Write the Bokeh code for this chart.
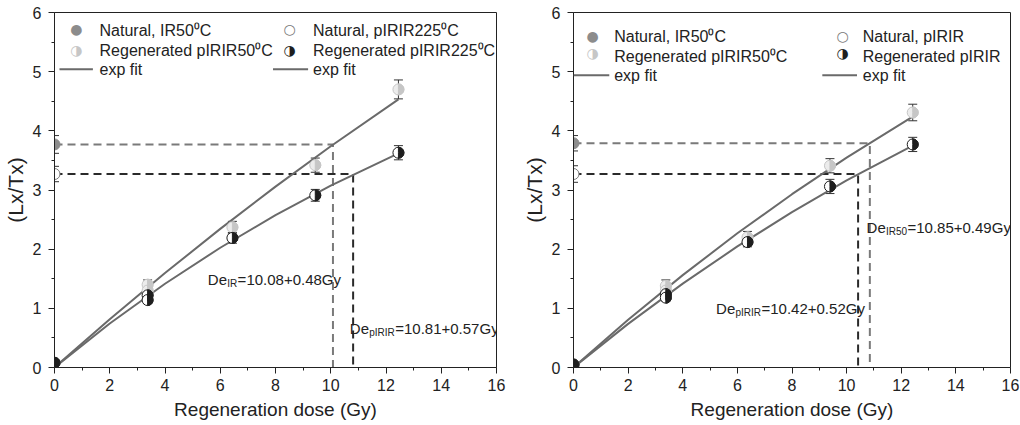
import math
from bokeh.plotting import figure
from bokeh.models import (Range1d, FixedTicker, Whisker, TeeHead, ColumnDataSource,
                          Label, BoxAnnotation)
from bokeh.layouts import row
from bokeh.embed import file_html
from bokeh.resources import INLINE

# ---------------- data ----------------
x_ticks = [0, 2, 4, 6, 8, 10, 12, 14, 16]
x_minor = [1, 3, 5, 7, 9, 11, 13, 15]
y_ticks = [0, 1, 2, 3, 4, 5, 6]
y_minor = [0.5, 1.5, 2.5, 3.5, 4.5, 5.5]

# left panel
L_dose = [0, 3.37, 3.37, 6.44, 9.44, 12.45]
L_reg50 = [0.08, 1.40, 1.30, 2.37, 3.42, 4.70]
L_reg50_err = [0.05, 0.08, 0.08, 0.10, 0.12, 0.16]
L_regp = [0.08, 1.22, 1.14, 2.19, 2.91, 3.63]
L_regp_err = [0.05, 0.06, 0.06, 0.09, 0.10, 0.12]
L_nat = [3.77, 3.27]          # Natural IR50, Natural pIRIR225
L_nat_err = [0.15, 0.13]
L_de = [10.08, 10.81]         # De IR, De pIRIR
L_fit_x = [0, 2, 4, 6, 8, 10, 12.45]
L_fit50 = [0, 0.816, 1.596, 2.343, 3.057, 3.740, 4.532]
L_fitp = [0, 0.743, 1.416, 2.024, 2.575, 3.073, 3.620]
L_legend = ["Natural, IR50\u2070C", "Regenerated pIRIR50\u2070C", "exp fit",
            "Natural, pIRIR225\u2070C", "Regenerated pIRIR225\u2070C", "exp fit"]
L_de_text = [("De", "IR", "=10.08+0.48Gy"), ("De", "pIRIR", "=10.81+0.57Gy")]

# right panel
R_dose = [0, 3.38, 3.38, 6.37, 9.39, 12.42]
R_reg50 = [0.05, 1.38, 1.30, 2.20, 3.41, 4.31]
R_reg50_err = [0.05, 0.10, 0.08, 0.10, 0.12, 0.14]
R_regp = [0.05, 1.24, 1.18, 2.12, 3.06, 3.77]
R_regp_err = [0.05, 0.08, 0.06, 0.08, 0.12, 0.12]
R_nat = [3.79, 3.27]          # Natural IR50, Natural pIRIR
R_nat_err = [0.13, 0.14]
R_de = [10.85, 10.42]         # De IR50, De pIRIR
R_fit_x = [0, 2, 4, 6, 8, 10, 12.42]
R_fit50 = [0, 0.807, 1.561, 2.268, 2.929, 3.546, 4.240]
R_fitp = [0, 0.737, 1.418, 2.046, 2.626, 3.162, 3.750]
R_legend = ["Natural, IR50\u2070C", "Regenerated pIRIR50\u2070C", "exp fit",
            "Natural, pIRIR", "Regenerated pIRIR", "exp fit"]
R_de_text = [("De", "IR50", "=10.85+0.49Gy"), ("De", "pIRIR", "=10.42+0.52Gy")]

FONT = "Liberation Sans"
C_NAT50 = "#8c8c8c"
C_NATP = "#7a7a7a"
C_REG50 = "#c6c6c6"
C_REG50_L = "#ececec"
C_REGP = "#1e1e1e"
C_FIT = "#6a6a6a"
C_DASH50 = "#7a7a7a"
C_DASHP = "#2a2a2a"
SUB_W = {"IR": 10.0, "pIRIR": 25.6, "IR50": 21.1}


def build(dose, reg50, reg50e, regp, regpe, nat, nate, de, fx, f50, fp,
          legend, de_text, de_pos, leg, borders, fw):
    bl, br = borders
    p = figure(frame_width=fw, frame_height=355, min_border_left=bl,
               min_border_right=br, min_border_top=12, min_border_bottom=58,
               x_range=Range1d(0, 16), y_range=Range1d(0, 6),
               output_backend="svg", toolbar_location=None)
    p.xgrid.visible = False
    p.ygrid.visible = False
    p.outline_line_color = "#222222"
    p.outline_line_width = 1
    p.background_fill_color = "white"
    p.border_fill_color = "white"

    p.xaxis.ticker = FixedTicker(ticks=x_ticks, minor_ticks=x_minor)
    p.yaxis.ticker = FixedTicker(ticks=y_ticks, minor_ticks=y_minor)
    for ax in (p.xaxis, p.yaxis):
        ax.axis_line_color = "#222222"
        ax.major_tick_line_color = "#222222"
        ax.minor_tick_line_color = "#222222"
        ax.major_tick_in = 0
        ax.major_tick_out = 6
        ax.minor_tick_in = 0
        ax.minor_tick_out = 3
        ax.major_label_text_font = FONT
        ax.major_label_text_font_size = "16px"
        ax.major_label_text_color = "#222222"
        ax.axis_label_text_font = FONT
        ax.axis_label_text_font_style = "normal"
        ax.axis_label_text_color = "#222222"
    p.xaxis.axis_label = "Regeneration dose (Gy)"
    p.xaxis.axis_label_text_font_size = "19px"
    p.xaxis.major_label_standoff = 5
    p.xaxis.axis_label_standoff = 5
    p.yaxis.axis_label = "(Lx/Tx)"
    p.yaxis.axis_label_text_font_size = "21px"
    p.yaxis.major_label_standoff = 7
    p.yaxis.axis_label_standoff = 3

    # dashed De construction lines
    p.line([0, de[0], de[0]], [nat[0], nat[0], 0], line_color=C_DASH50,
           line_width=2, line_dash="8 5")
    p.line([0, de[1], de[1]], [nat[1], nat[1], 0], line_color=C_DASHP,
           line_width=2, line_dash="8 5")

    # fits
    p.line(fx, f50, line_color=C_FIT, line_width=2)
    p.line(fx, fp, line_color=C_FIT, line_width=2)

    # error bars
    def whisk(xs, ys, es):
        src = ColumnDataSource(dict(x=xs, up=[y + e for y, e in zip(ys, es)],
                                    lo=[y - e for y, e in zip(ys, es)]))
        w = Whisker(base="x", upper="up", lower="lo", source=src,
                    dimension="height", line_color="#333333", line_width=1,
                    upper_head=TeeHead(size=9, line_color="#333333", line_width=1),
                    lower_head=TeeHead(size=9, line_color="#333333", line_width=1))
        p.add_layout(w)

    whisk(dose, reg50, reg50e)
    whisk(dose, regp, regpe)
    whisk([0, 0], nat, nate)

    R = 5.5
    # regenerated pIRIR50: light half circles
    p.scatter(dose, reg50, size=2 * R, fill_color=C_REG50_L, line_color=C_REG50,
              line_width=1)
    p.wedge(dose, reg50, radius=R, radius_units="screen", start_angle=-math.pi / 2,
            end_angle=math.pi / 2, fill_color=C_REG50, line_color=C_REG50)
    # regenerated pIRIR: dark half circles
    p.scatter(dose, regp, size=2 * R, fill_color="white", line_color=C_REGP,
              line_width=1)
    p.wedge(dose, regp, radius=R, radius_units="screen", start_angle=-math.pi / 2,
            end_angle=math.pi / 2, fill_color=C_REGP, line_color=C_REGP)
    # naturals
    p.scatter([0], [nat[0]], size=2 * R, fill_color=C_NAT50, line_color=C_NAT50)
    p.scatter([0], [nat[1]], size=2 * R, fill_color="white", line_color=C_NATP,
              line_width=1)

    # De annotations (with subscripts)
    for (main, sub, rest), (lx, ly) in zip(de_text, de_pos):
        p.add_layout(Label(x=lx, y=ly, text=main, text_font=FONT,
                           text_font_size="15px", text_color="#222222",
                           text_baseline="alphabetic"))
        p.add_layout(Label(x=lx, y=ly, x_offset=19.4, y_offset=-4, text=sub,
                           text_font=FONT, text_font_size="10px",
                           text_color="#222222", text_baseline="alphabetic"))
        p.add_layout(Label(x=lx, y=ly, x_offset=19.4 + SUB_W[sub] + 0.4, text=rest,
                           text_font=FONT, text_font_size="15px",
                           text_color="#222222", text_baseline="alphabetic"))

    # legend (built from annotations)
    mk_cols = [leg["mx1"], leg["mx2"]]
    tx_cols = [leg["tx1"], leg["tx2"]]
    line_cols = [leg["ln1"], leg["ln2"]]
    symbols = [("\u25CF", C_NAT50), ("\u25D1", C_REG50), None,
               ("\u25CB", C_NATP), ("\u25D1", C_REGP), None]
    for i, lab in enumerate(legend):
        c, r = divmod(i, 3)
        ty = leg["ty"][r]
        sym = symbols[i]
        if sym is not None:
            p.add_layout(Label(x=mk_cols[c], y=leg["my"][r], text=sym[0],
                               text_font="DejaVu Sans", text_font_size="14px",
                               text_color=sym[1], text_align="center",
                               text_baseline="middle"))
        else:
            x0, x1 = line_cols[c]
            p.add_layout(BoxAnnotation(left=x0, right=x1, bottom=ty - 0.017,
                                       top=ty + 0.017, fill_color=C_FIT,
                                       fill_alpha=1, line_color=None))
        p.add_layout(Label(x=tx_cols[c], y=ty, text=lab, text_font=FONT,
                           text_font_size="16px", text_color="#222222",
                           text_baseline="middle"))
    return p


p1 = build(L_dose, L_reg50, L_reg50_err, L_regp, L_regp_err, L_nat, L_nat_err,
           L_de, L_fit_x, L_fit50, L_fitp, L_legend, L_de_text,
           [(5.55, 1.48), (10.69, 0.66)],
           dict(mx1=0.79, mx2=8.51, tx1=1.63, tx2=9.36, ln1=(0.18, 1.39),
                ln2=(7.91, 9.18), my=[5.715, 5.364], ty=[5.70, 5.36, 5.04]),
           (50, 18), 442)
p2 = build(R_dose, R_reg50, R_reg50_err, R_regp, R_regp_err, R_nat, R_nat_err,
           R_de, R_fit_x, R_fit50, R_fitp, R_legend, R_de_text,
           [(10.73, 2.36), (5.22, 1.00)],
           dict(mx1=0.70, mx2=9.85, tx1=1.49, tx2=10.59, ln1=(0.0, 1.31),
                ln2=(9.11, 10.38), my=[5.61, 5.31], ty=[5.59, 5.25, 4.94]),
           (59, 14), 437)

layout = row(p1, p2)
open("out.html", "w").write(file_html(layout, INLINE))
